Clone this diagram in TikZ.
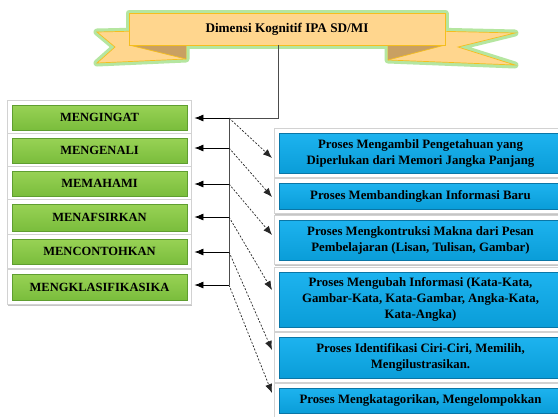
\documentclass[tikz,border=0pt]{standalone}
\usepackage{fontspec}
\setmainfont{Liberation Serif}
\usetikzlibrary{arrows.meta,shadows,backgrounds,calc}
\definecolor{gtop}{HTML}{98D255}
\definecolor{gbot}{HTML}{7ABD3C}
\definecolor{gedge}{HTML}{5F9E30}
\definecolor{btop}{HTML}{1DB3EF}
\definecolor{bbot}{HTML}{0A9DD8}
\definecolor{bedge}{HTML}{0A76A6}
\definecolor{ribfill}{HTML}{FFD68E}
\definecolor{ribedge}{HTML}{F5BE1E}
\definecolor{ribfold}{HTML}{C9A062}
\definecolor{glow}{HTML}{B5E6A0}
\tikzset{
  gbox/.style={minimum width=175pt, inner sep=0pt, top color=gtop, bottom color=gbot,
    draw=gedge, line width=0.8pt, font=\bfseries\fontsize{12.5}{14}\selectfont},
  bbox/.style={minimum width=283pt, inner sep=0pt, top color=btop, bottom color=bbot,
    draw=bedge, line width=0.8pt, align=center, font=\bfseries\fontsize{12.8}{16}\selectfont},
  frame/.style={fill=white, draw=gray!35, line width=0.4pt,
    drop shadow={shadow xshift=0.8pt, shadow yshift=-1.6pt, opacity=0.45}},
  trunk/.style={draw=black!70, line width=0.9pt},
  larrow/.style={draw=black, line width=0.8pt, -{Latex[length=9pt,width=7pt]}, shorten >=7pt},
  darrow/.style={draw=black!85, line width=0.7pt, dash pattern=on 2pt off 1.6pt, -{Latex[length=9pt,width=7pt]}},
  ribbon/.style={fill=ribfill, draw=ribedge, line width=0.7pt, line join=miter},
  ribglow/.style={draw=glow, line width=7pt, line join=round, fill=glow}
}
\begin{document}
\begin{tikzpicture}[x=1pt,y=1pt]
\useasboundingbox (0,0) rectangle (558,-416);
% ribbon glow
\path[ribglow] (97,-32) -- (186,-30) -- (186,-59) -- (97,-63) -- (115,-47) -- cycle;
\path[ribglow] (388,-30) -- (515,-33) -- (458,-47) -- (515,-65) -- (388,-60) -- cycle;
\path[ribglow] (129,-13) rectangle (445,-45);
% ribbon tails
\path[ribbon] (97,-32) -- (186,-30) -- (186,-59) -- (97,-63) -- (115,-47) -- cycle;
\path[ribbon] (388,-30) -- (515,-33) -- (458,-47) -- (515,-65) -- (388,-60) -- cycle;
\fill[ribfold] (129,-45) -- (186,-45) -- (186,-59) -- cycle;
\fill[ribfold] (388,-45) -- (445,-45) -- (388,-60) -- cycle;
\draw[ribedge, line width=0.7pt] (129,-45) -- (186,-59) (445,-45) -- (388,-60);
% title
\node[ribbon, minimum width=316pt, minimum height=32pt, inner sep=0pt,
  font=\bfseries\fontsize{13.2}{14}\selectfont] (title) at (287,-29) {Dimensi Kognitif IPA SD/MI};

% green boxes
\node[gbox, minimum height=25pt] (g1) at (99.5,-117.5) {MENGINGAT};
\node[gbox, minimum height=25pt] (g2) at (99.5,-150.5) {MENGENALI};
\node[gbox, minimum height=25pt] (g3) at (99.5,-183.5) {MEMAHAMI};
\node[gbox, minimum height=27pt] (g4) at (99.5,-217.5) {MENAFSIRKAN};
\node[gbox, minimum height=25pt] (g5) at (99.5,-251.5) {MENCONTOHKAN};
\node[gbox, minimum height=26pt] (g6) at (99.5,-287) {MENGKLASIFIKASIKA};

% blue boxes
\node[bbox, minimum height=40pt] (b1) at (420.5,-153) {Proses Mengambil Pengetahuan yang\\Diperlukan dari Memori Jangka Panjang};
\node[bbox, minimum height=26pt] (b2) at (420.5,-196) {Proses Membandingkan Informasi Baru};
\node[bbox, minimum height=40pt] (b3) at (420.5,-240) {Proses Mengkontruksi Makna dari Pesan\\Pembelajaran (Lisan, Tulisan, Gambar)};
\node[bbox, minimum height=55pt] (b4) at (420.5,-299.5) {Proses Mengubah Informasi (Kata-Kata,\\Gambar-Kata, Kata-Gambar, Angka-Kata,\\Kata-Angka)};
\node[bbox, minimum height=41pt] (b5) at (420.5,-357.5) {Proses Identifikasi Ciri-Ciri, Memilih,\\Mengilustrasikan.};
\node[bbox, minimum height=25pt] (b6) at (420.5,-400.5) {Proses Mengkatagorikan, Mengelompokkan};

% frames
\begin{scope}[on background layer]
\fill[white] (0,0) rectangle (558,-416);
\foreach \n in {g1,g2,g3,g4,g5,g6,b1,b2,b3,b4,b5,b6}
  \path[frame] ([shift={(-4pt,4pt)}]\n.north west) rectangle ([shift={(4pt,-4pt)}]\n.south east);
\end{scope}

% junctions
\coordinate (tk) at (278,-118);
\coordinate (j1) at (229,-118);
\coordinate (j2) at (229,-148);
\coordinate (j3) at (229,-184);
\coordinate (j4) at (229,-217);
\coordinate (j5) at (229,-252);
\coordinate (j6) at (229,-285);
% dashed arrow tips
\coordinate (d1) at (272,-158);
\coordinate (d2) at (272,-197);
\coordinate (d3) at (272,-235);
\coordinate (d4) at (272,-290);
\coordinate (d5) at (272,-350);
\coordinate (d6) at (272,-393);

\draw[trunk] (tk |- title.south) -- (tk) -- (j1);
\draw[trunk] (j1) -- (j6);
\foreach \i in {1,...,6}{
  \draw[larrow] (j\i) -- (j\i -| g\i.east);
  \draw[darrow] (j\i) -- (d\i);
}
\end{tikzpicture}
\end{document}
